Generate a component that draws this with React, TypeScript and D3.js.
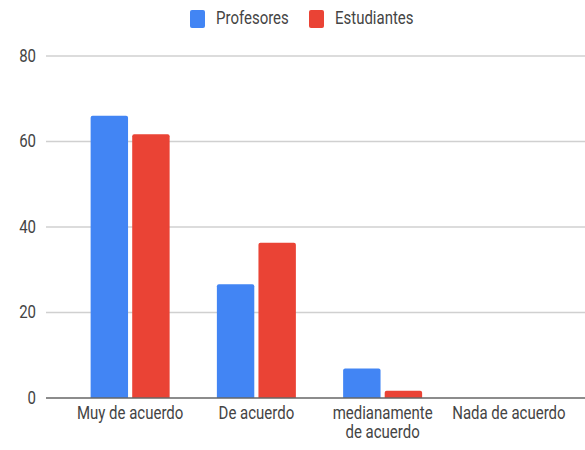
import React from "react";
import * as d3 from "d3";

const categories = ["Muy de acuerdo", "De acuerdo", "medianamente\nde acuerdo", "Nada de acuerdo"];
const seriesNames = ["Profesores", "Estudiantes"];
const profesores = [66, 26.6, 6.9, 0];
const estudiantes = [61.7, 36.3, 1.7, 0];
const yTicks = [0, 20, 40, 60, 80];
const colors = ["#4285F4", "#EA4335"];

const W = 585;
const H = 450;
const FONT = "Roboto, 'Liberation Sans', Arial, sans-serif";
const SY = 1.2;

function StretchText({ x, y, anchor, size, children, fill }: any) {
  return (
    <g transform={`translate(${x},${y}) scale(1,${SY})`}>
      <text x={0} y={0} textAnchor={anchor} fontSize={size} fill={fill} fontFamily={FONT}>
        {children}
      </text>
    </g>
  );
}

export default function App() {
  const y = d3.scaleLinear().domain([0, 80]).range([398, 56]);
  const x = d3.scaleBand().domain(categories).range([67, 572]).paddingInner(0).paddingOuter(0);
  const x1 = d3.scaleBand().domain(seriesNames).range([0, 79]).paddingInner(0.1);
  const groupOffset = (x.bandwidth() - 79) / 2;
  const data = [profesores, estudiantes];

  return (
    <svg width={W} height={H} style={{ position: "absolute", left: 0, top: 0, background: "#fff" }}>
      <rect x={0} y={0} width={W} height={H} fill="#fff" />
      {yTicks.map((t) => (
        <g key={t}>
          {t !== 0 && <line x1={46} x2={W} y1={y(t)} y2={y(t)} stroke="#d0d0d0" strokeWidth={1.5} />}
          <StretchText x={36} y={y(t) + 5.5} anchor="end" size={15} fill="#444">
            {t}
          </StretchText>
        </g>
      ))}
      {categories.map((c, i) => (
        <g key={c}>
          {seriesNames.map((s, j) => {
            const v = data[j][i];
            if (v <= 0) return null;
            const bx = (x(c) as number) + groupOffset + (x1(s) as number);
            const top = y(v);
            const h = y(0) - top;
            const r = Math.min(2, h / 2);
            const w = x1.bandwidth();
            const path = `M${bx},${y(0)} V${top + r} Q${bx},${top} ${bx + r},${top} H${bx + w - r} Q${bx + w},${top} ${bx + w},${top + r} V${y(0)} Z`;
            return <path key={s} d={path} fill={colors[j]} />;
          })}
        </g>
      ))}
      <line x1={46} x2={W} y1={y(0)} y2={y(0)} stroke="#666" strokeWidth={1.5} />
      {categories.map((c) => {
        const cx = (x(c) as number) + x.bandwidth() / 2;
        const lines = c.split("\n");
        return lines.map((ln, k) => (
          <StretchText key={c + k} x={cx} y={419 + k * 19} anchor="middle" size={15} fill="#444">
            {ln}
          </StretchText>
        ));
      })}
      {seriesNames.map((s, j) => {
        const lx = [190, 309][j];
        return (
          <g key={s}>
            <rect x={lx} y={10} width={15} height={18} rx={2} fill={colors[j]} />
            <StretchText x={lx + 26} y={24} anchor="start" size={15} fill="#444">
              {s}
            </StretchText>
          </g>
        );
      })}
    </svg>
  );
}
